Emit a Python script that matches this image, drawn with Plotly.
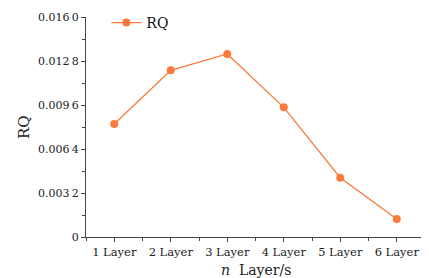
import plotly.graph_objects as go

categories = ["1 Layer", "2 Layer", "3 Layer", "4 Layer", "5 Layer", "6 Layer"]
rq_values = [0.00822, 0.01212, 0.01331, 0.00943, 0.00431, 0.00131]
y_tick_vals = [0, 0.0032, 0.0064, 0.0096, 0.0128, 0.016]
y_tick_text = ["0", "0.003\u20092", "0.006\u20094", "0.009\u20096", "0.012\u20098", "0.016\u20090"]

color = "#F97A3A"
font_family = "DejaVu Serif, Liberation Serif, serif"

# the page body has an 8px default margin, so the figure is sized to fit the window
fig = go.Figure()
fig.add_trace(go.Scatter(
    x=list(range(len(categories))), y=rq_values, name="RQ",
    mode="lines+markers",
    line=dict(color=color, width=1.3),
    marker=dict(color=color, size=8),
))

fig.update_layout(
    width=421, height=270,
    margin=dict(l=78, r=4, t=9, b=41, autoexpand=False),
    plot_bgcolor="white", paper_bgcolor="white",
    font=dict(family=font_family, size=11, color="#222"),
    showlegend=True,
    legend=dict(x=0.06, y=0.973, xanchor="left", yanchor="middle",
                bgcolor="rgba(0,0,0,0)", font=dict(size=14, color="#111"),
                itemwidth=30),
    annotations=[
        dict(text="<i>n</i>  Layer/s", x=0.5, y=0, xref="paper", yref="paper",
             yshift=-33, yanchor="middle",
             showarrow=False, font=dict(size=14)),
        dict(text="RQ", x=0, y=0.5, xref="paper", yref="paper",
             xshift=-62, xanchor="center",
             showarrow=False, textangle=-90, font=dict(size=15)),
    ],
)

fig.update_xaxes(
    range=[-0.5, 5.5], automargin=False,
    tickvals=list(range(len(categories))), ticktext=categories,
    showline=True, linecolor="#444", linewidth=1.3,
    ticks="outside", ticklen=4, tickcolor="#444",
    minor=dict(tickvals=[i - 0.5 for i in range(7)], ticks="outside", ticklen=3, tickcolor="#444"),
    showgrid=False, zeroline=False,
    tickfont=dict(size=11.5),
)
fig.update_yaxes(
    range=[0, 0.016], automargin=False,
    tickvals=y_tick_vals, ticktext=y_tick_text,
    showline=True, linecolor="#444", linewidth=1.3,
    ticks="outside", ticklen=4, tickcolor="#444",
    minor=dict(tickvals=[0.0016, 0.0048, 0.008, 0.0112, 0.0144], ticks="outside", ticklen=3, tickcolor="#444"),
    showgrid=False, zeroline=False,
    tickfont=dict(size=11),
)

fig.write_html("out.html")
